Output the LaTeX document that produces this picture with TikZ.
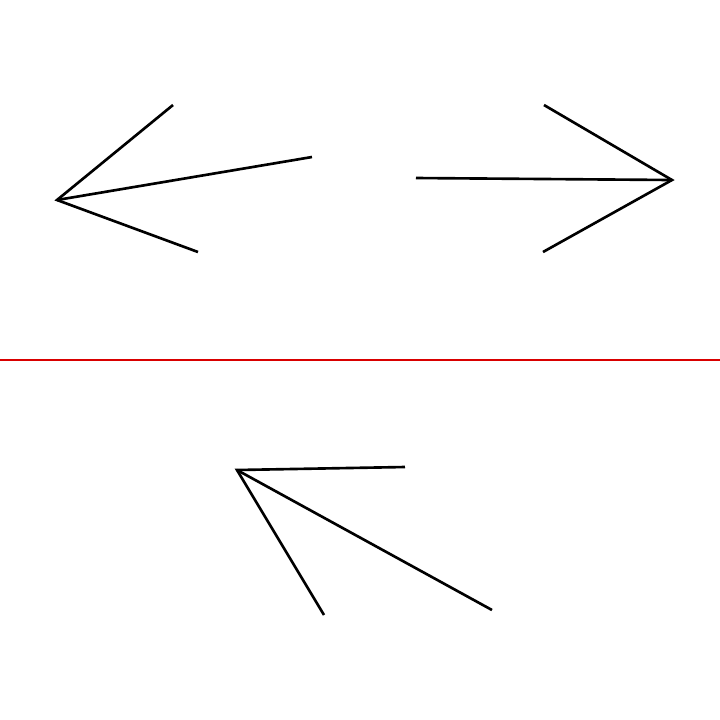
\documentclass[tikz,border=0pt]{standalone}
\begin{document}
\begin{tikzpicture}[x=0.01cm,y=-0.01cm,
  stroke/.style={line width=0.75pt,black},
  divider/.style={line width=0.5pt,red!85!black}]
\useasboundingbox (0,0) rectangle (720,720);
% left arrow
\coordinate (L) at (57,200);
\coordinate (L1) at (173,105);
\coordinate (L2) at (312,157);
\coordinate (L3) at (198,252);
\draw[stroke] (L1) -- (L) -- (L3);
\draw[stroke] (L) -- (L2);
% right arrow
\coordinate (R) at (672,180);
\coordinate (R0) at (416,178);
\coordinate (R1) at (544,105);
\coordinate (R3) at (543,252);
\draw[stroke] (R1) -- (R) -- (R3);
\draw[stroke] (R0) -- (R);
% divider
\coordinate (D0) at (0,360);
\coordinate (D1) at (720,360);
\draw[divider] (D0) -- (D1);
% bottom arrow
\coordinate (B) at (237,470);
\coordinate (B1) at (405,467);
\coordinate (B2) at (324,615);
\coordinate (B3) at (492,610);
\draw[stroke] (B1) -- (B) -- (B2);
\draw[stroke] (B) -- (B3);
\end{tikzpicture}
\end{document}
